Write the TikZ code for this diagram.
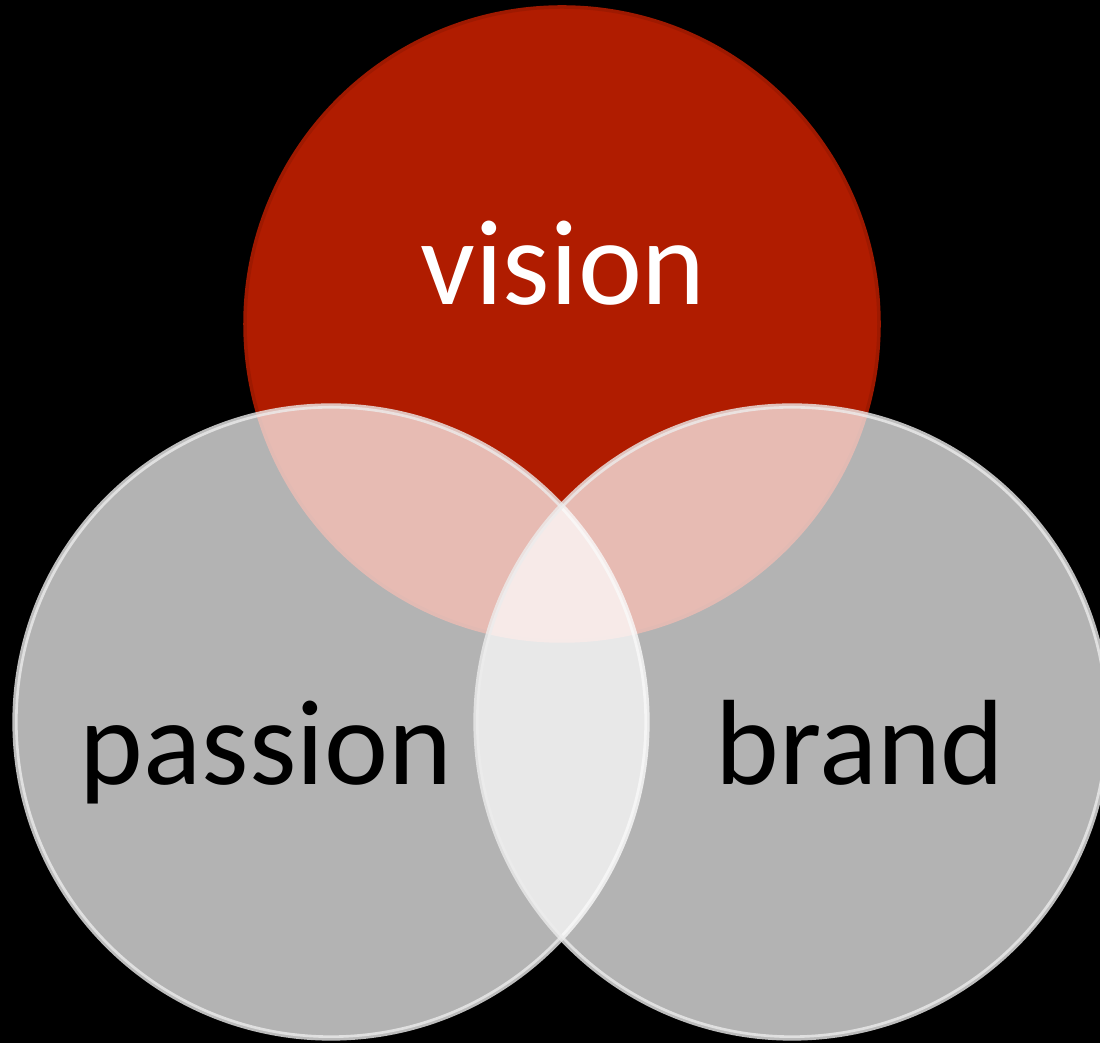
\documentclass[tikz,border=0pt]{standalone}
\usepackage{fontspec}
\setmainfont{Carlito}
\usepackage{tikz}
\usetikzlibrary{positioning}

\definecolor{visionred}{RGB}{176,28,0}

\begin{document}
\begin{tikzpicture}[x=0.01cm, y=0.01cm,
    redset/.style={fill=visionred, draw=visionred!90!black, line width=1},
    grayset/.style={fill=white, fill opacity=.7, draw=white!85!gray, draw opacity=.8, line width=1.5},
    word/.style={font=\fontsize{34.5}{40}\selectfont, anchor=base, inner sep=0pt}]
    \useasboundingbox (0,0) rectangle (1100,1043) ;
    \clip (0,0) rectangle (1100,1043) ;
    \fill[black] (0,0) rectangle (1100,1043) ;

    \draw[redset] (562,719) circle (317) ;

    \draw[grayset] (331,321) circle (316) ;

    \draw[grayset] (792,321) circle (316) ;

    \node[word, text=white] (vision) at (563,738) {vision};
    \node[word, text=black] (passion) at (266,258) {passion};
    \node[word, text=black] (brand) at (860,258) {brand};

\end{tikzpicture}
\end{document}
